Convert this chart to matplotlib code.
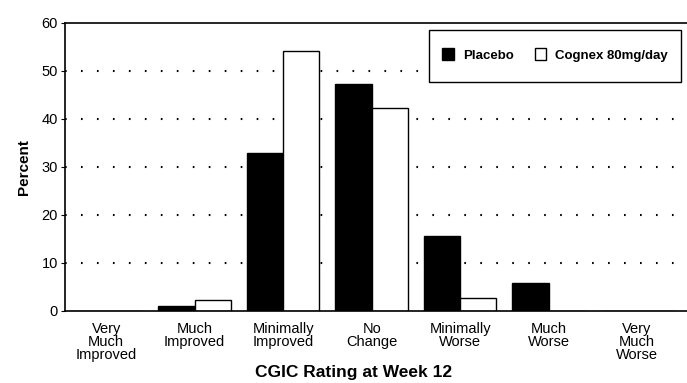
import numpy as np
import matplotlib.pyplot as plt
from matplotlib.patches import Patch, Rectangle
from matplotlib.legend_handler import HandlerPatch
from matplotlib.path import Path

plt.rcParams['font.family'] = ['Liberation Sans', 'DejaVu Sans']
plt.rcParams['lines.scale_dashes'] = False

# CGIC Kategorien
categories = ["Very\nMuch\nImproved", "Much\nImproved", "Minimally\nImproved", "No\nChange",
              "Minimally\nWorse", "Much\nWorse", "Very\nMuch\nWorse"]
placebo = [0, 1.1, 33, 47.2, 15.6, 5.8, 0]
cognex = [0, 2.2, 54.1, 42.2, 2.8, 0, 0]
yticks = [0, 10, 20, 30, 40, 50, 60]

fig = plt.figure(figsize=(6.87, 3.83), dpi=100)
ax = fig.add_axes([0.0946, 0.188, 0.91, 0.752])

x = np.arange(len(categories))
w = 0.41

# gepunktete hilfslinien
for yv in yticks[1:-1]:
    ax.axhline(yv, color='black', linewidth=1.5, linestyle=(0, (1.2, 10.3)), zorder=1)

ax.bar(x - w / 2, placebo, w, color='black', edgecolor='black', linewidth=1, zorder=2)
ax.bar(x + w / 2, cognex, w, color='white', edgecolor='black', linewidth=1, zorder=2)

ax.set_xlim(-0.466, 6.6)
ax.set_ylim(0, 60)
ax.set_yticks(yticks)
ax.set_xticks(x)
ax.set_xticklabels(categories, fontsize=10.5, linespacing=0.9)
ax.tick_params(axis='x', length=0, pad=8)
ax.tick_params(axis='y', length=3, labelsize=10.5, pad=2)

for s in ['top', 'bottom', 'left']:
    ax.spines[s].set_linewidth(1.2)
ax.spines['right'].set_visible(False)

ax.set_ylabel("Percent", fontsize=11, fontweight='bold', labelpad=8)
fig.text(354 / 687, 1 - 372 / 383, "CGIC Rating at Week 12", fontsize=12.5,
         fontweight='bold', ha='center', va='center')


# quadratische legendensymbole, mittig zum text
def square_handle(legend, orig_handle, xdescent, ydescent, width, height, fontsize):
    s = 8.6
    return Rectangle((width / 2 - s / 2 - xdescent, 0.36 * fontsize - s / 2 - ydescent), s, s)


# rahmen mit mehr abstand oben/unten
def frame_style(x0, y0, width, height, mutation_size):
    pad = 0.5 * mutation_size
    verts = [(x0, y0 - pad), (x0 + width, y0 - pad), (x0 + width, y0 + height + pad),
             (x0, y0 + height + pad), (x0, y0 - pad)]
    return Path(verts, [Path.MOVETO, Path.LINETO, Path.LINETO, Path.LINETO, Path.CLOSEPOLY])


handles = [Patch(facecolor='black', edgecolor='black'), Patch(facecolor='white', edgecolor='black')]
leg = ax.legend(handles, ["Placebo", "Cognex 80mg/day"], ncol=2, loc='upper right',
                bbox_to_anchor=(0.9853, 0.9528), prop={'weight': 'bold', 'size': 9.5},
                fancybox=False, framealpha=1, edgecolor='black', handlelength=0.9,
                handleheight=0.7, handletextpad=0.65, columnspacing=1.6,
                borderpad=1.0, borderaxespad=0,
                handler_map={Patch: HandlerPatch(patch_func=square_handle)})
leg.get_frame().set_linewidth(1)
leg.get_frame().set_boxstyle(frame_style)

fig.savefig("out.png", dpi=100)
